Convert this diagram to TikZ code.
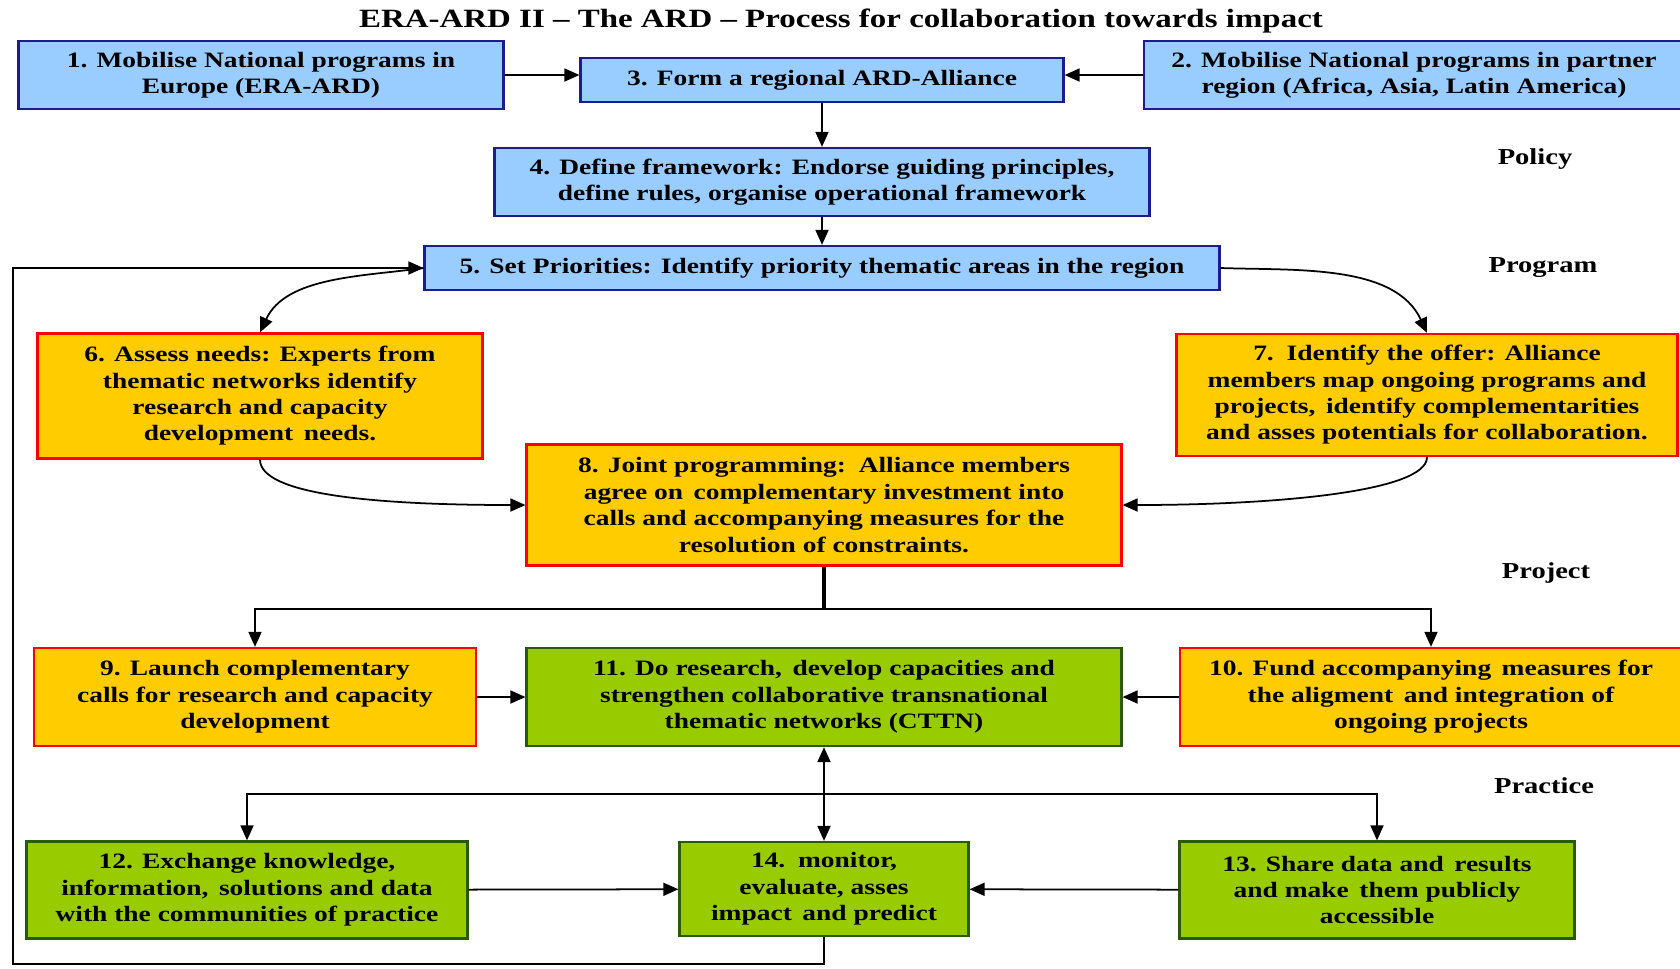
\documentclass[tikz,border=0pt]{standalone}
\usepackage{fontspec}
\setmainfont{Liberation Serif}[FakeStretch=1.25]
\usetikzlibrary{arrows.meta,positioning}
\definecolor{boxblue}{RGB}{153,204,255}
\definecolor{edgeblue}{RGB}{28,28,140}
\definecolor{boxorange}{RGB}{255,204,0}
\definecolor{boxgreen}{RGB}{153,204,0}
\definecolor{edgegreen}{RGB}{40,90,10}

\begin{document}
\begin{tikzpicture}[x=0.02cm, y=-0.02cm, >={Triangle[length=3mm,width=2.6mm]},
    txt/.style={font=\bfseries\fontsize{12.5}{15}\selectfont, align=center, inner sep=0pt},
    bluebox/.style={txt, draw=edgeblue, line width=1.3pt, fill=boxblue},
    orangebox/.style={txt, draw=red, line width=1.3pt, fill=boxorange},
    greenbox/.style={txt, draw=edgegreen, line width=1.3pt, fill=boxgreen},
    flow/.style={->, line width=1pt}]
    \useasboundingbox (0,0) rectangle (1680,968);
    \node[txt, font=\bfseries\fontsize{15}{18}\selectfont] (title) at (841,21) {ERA-ARD II -- The ARD -- Process for collaboration towards impact};
    \node[bluebox, minimum width=9.7cm, minimum height=1.36cm] (b1) at (261,75) {1. Mobilise National programs in\\Europe (ERA-ARD)};
    \node[bluebox, minimum width=9.66cm, minimum height=0.88cm] (b3) at (822,80) {3. Form a regional ARD-Alliance};
    \node[bluebox, minimum width=10.8cm, minimum height=1.36cm] (b2) at (1414,75) {2. Mobilise National programs in partner\\region (Africa, Asia, Latin America)};
    \node[bluebox, minimum width=13.1cm, minimum height=1.36cm] (b4) at (822,182) {4. Define framework: Endorse guiding principles,\\define rules, organise operational framework};
    \node[bluebox, minimum width=15.9cm, minimum height=0.88cm] (b5) at (822,268) {5. Set Priorities: Identify priority thematic areas in the region};
    \node[orangebox, minimum width=8.9cm, minimum height=2.5cm] (b6) at (260,396) {6. Assess needs: Experts from\\thematic networks identify\\research and capacity\\development\, needs.};
    \node[orangebox, minimum width=10.02cm, minimum height=2.44cm] (b7) at (1427,395) {7.\, Identify the offer: Alliance\\members map ongoing programs and\\projects,\, identify complementarities\\and asses potentials for collaboration.};
    \node[orangebox, minimum width=11.9cm, minimum height=2.42cm] (b8) at (824,505) {8. Joint programming:\, Alliance members\\agree on\, complementary investment into\\calls and accompanying measures for the\\resolution of constraints.};
    \node[orangebox, minimum width=8.84cm, minimum height=1.96cm] (b9) at (255,697) {9. Launch complementary\\calls for research and capacity\\development};
    \node[greenbox, minimum width=11.9cm, minimum height=1.96cm] (b11) at (824,697) {11. Do research,\, develop capacities and\\strengthen collaborative transnational\\thematic networks (CTTN)};
    \node[orangebox, minimum width=10.04cm, minimum height=1.96cm] (b10) at (1431,697) {10. Fund accompanying\, measures for\\the aligment\, and integration of\\ongoing projects};
    \node[greenbox, minimum width=8.82cm, minimum height=1.94cm] (b12) at (247,890) {12. Exchange knowledge,\\information,\, solutions and data\\with the communities of practice};
    \node[greenbox, minimum width=5.78cm, minimum height=1.88cm] (b14) at (824,889) {14.\, monitor,\\evaluate, asses\\impact\, and predict};
    \node[greenbox, minimum width=7.9cm, minimum height=1.94cm] (b13) at (1377,890) {13. Share data and\, results\\and make\, them publicly\\accessible};
    \node[txt, font=\bfseries\fontsize{13}{15}\selectfont] (policy) at (1535,159) {Policy};
    \node[txt, font=\bfseries\fontsize{13}{15}\selectfont] (program) at (1543,268) {Program};
    \node[txt, font=\bfseries\fontsize{13}{15}\selectfont] (project) at (1546,573) {Project};
    \node[txt, font=\bfseries\fontsize{13}{15}\selectfont] (practice) at (1544,786) {Practice};
    \coordinate (j1) at (824,609);
    \coordinate (j2) at (824,794);
    \coordinate (fb1) at (824,964);
    \coordinate (fb2) at (13,964);
    \draw[flow] (b1.east) -- (b3.west |- b1.east);
    \draw[flow] (b2.west) -- (b3.east |- b2.west);
    \draw[flow] (b3) -- (b4);
    \draw[flow] (b4) -- (b5);
    \draw[flow] (b5.west) to[out=188, in=65, looseness=0.9] (b6.north);
    \draw[flow] (b5.east) to[out=-2, in=115, looseness=0.9] (b7.north);
    \draw[flow] (b6.south) .. controls +(0,35) and +(-150,0) .. (b8.west);
    \draw[flow] (b7.south) .. controls +(0,35) and +(150,0) .. (b8.east);
    \draw[line width=2.2pt] (b8.south) -- (j1);
    \draw[flow] (j1) -| (b9.north);
    \draw[flow] (j1) -| (b10.north);
    \draw[flow] (b9) -- (b11);
    \draw[flow] (b10) -- (b11);
    \draw[flow, <->] (b14) -- (b11);
    \draw[flow] (j2) -| (b12.north);
    \draw[flow] (j2) -| (b13.north);
    \draw[flow] (b12) -- (b14);
    \draw[flow] (b13) -- (b14);
    \draw[flow] (b14.south) -- (fb1) -- (fb2) |- (b5.west);
\end{tikzpicture}
\end{document}
